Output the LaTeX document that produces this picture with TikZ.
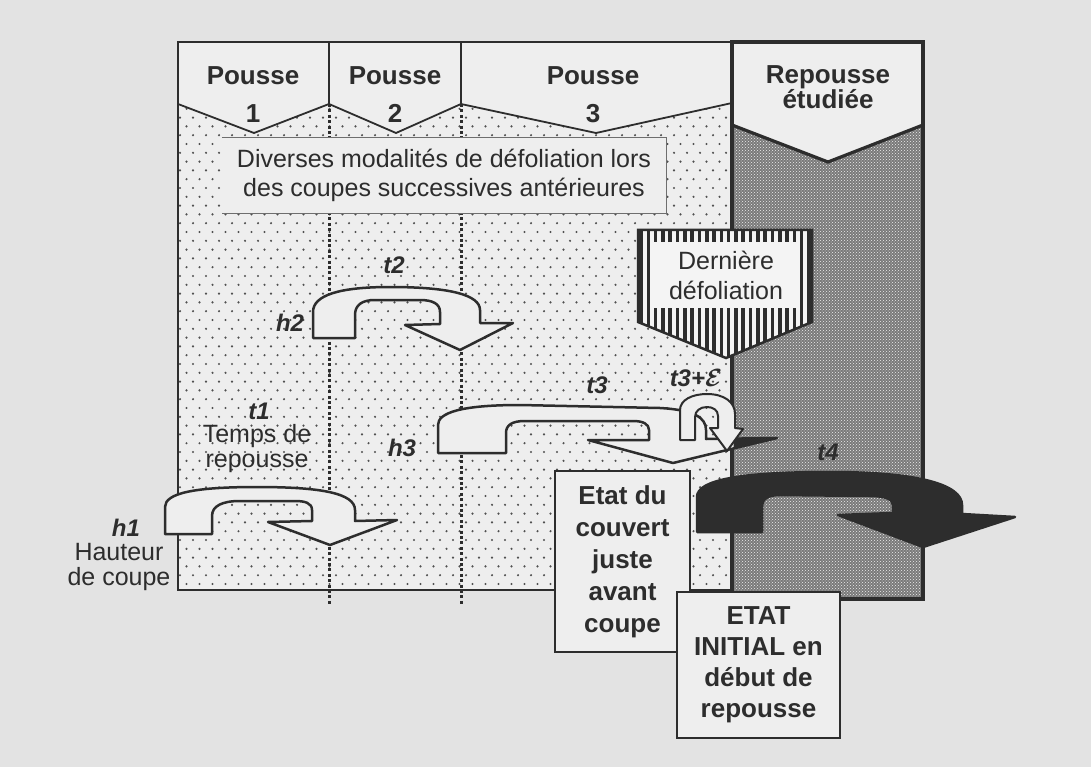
\documentclass[tikz,border=0pt]{standalone}
\usepackage{fontspec}
\setmainfont{Liberation Sans}
\usetikzlibrary{patterns}
\definecolor{bgc}{HTML}{E3E3E3}
\definecolor{lightc}{HTML}{EEEEEE}
\definecolor{whitec}{HTML}{F4F4F4}
\definecolor{darkc}{HTML}{2D2D2D}
\definecolor{colc}{HTML}{7A7A7A}
\definecolor{dotc}{HTML}{505050}
\definecolor{boxline}{HTML}{6E6E6E}
\tikzset{
  every node/.style={text=darkc, inner sep=0pt},
  lbl/.style={font=\fontsize{25}{25}\selectfont, align=center},
  hdr/.style={font=\fontsize{26}{38}\selectfont\bfseries, align=center},
  boxtxt/.style={font=\fontsize{26}{32}\selectfont\bfseries, align=center, draw=darkc, line width=2.5, fill=lightc},
  tlbl/.style={font=\fontsize{24}{24}\selectfont\bfseries\itshape},
  ubend/.style={draw=darkc, line width=2.5, fill=lightc, line join=round},
  thinline/.style={draw=darkc, line width=1.8},
  thickline/.style={draw=darkc, line width=3.2},
  vdots/.style={draw=darkc, line width=3, dash pattern=on 3 off 2.4},
  dotzone/.style={insert path={(178,104) -- (254,133) -- (329,104) -- (396,133) -- (461,104) -- (596,133) -- (732,103) -- (732,590) -- (178,590) -- cycle}},
  colzone/.style={insert path={(732,125) -- (828,162) -- (923,125) -- (923,599) -- (732,599) -- cycle}},
  hatchzone/.style={insert path={(638,230) -- (812,230) -- (812,322) -- (726,358) -- (638,322) -- cycle}},
  hthree/.style={insert path={(438,453) -- (438,425) .. controls (438,413) and (460,405) .. (520,405) -- (660,408) .. controls (695,410) and (706,418) .. (706,430) -- (706,439) -- (777,438) -- (673,463) -- (588,440) -- (649,440) -- (649,430) .. controls (649,424) and (643,421) .. (633,421) -- (525,421) .. controls (512,421) and (506,425) .. (506,433) -- (506,453) -- cycle}}
}
\begin{document}
\begin{tikzpicture}[x=1pt,y=-1pt]
\useasboundingbox (0,0) rectangle (1091,767);
\fill[bgc] (0,0) rectangle (1091,767);

% dotted zone
\fill[lightc, dotzone];
\begin{scope}
  \clip[dotzone];
  \foreach \r in {0,...,56} {
    \pgfmathsetmacro{\yy}{100+\r*8.8}
    \pgfmathsetmacro{\off}{mod(\r,2)*6.5}
    \foreach \c in {0,...,43} {
      \fill[dotc] (180+\off+\c*13,\yy) circle (1.2);
    }
  }
\end{scope}

% header cells
\fill[lightc] (178,42) -- (732,42) -- (732,103) -- (596,133) -- (461,104) -- (396,133) -- (329,104) -- (254,133) -- (178,104) -- cycle;
\draw[thinline] (178,104) -- (254,133) -- (329,104) -- (396,133) -- (461,104) -- (596,133) -- (732,103);
\draw[thinline] (329,42) -- (329,104);
\draw[thinline] (461,42) -- (461,104);

% vertical dotted lines
\draw[vdots] (329,104) -- (329,604);
\draw[vdots] (461,104) -- (461,604);

% main frame
\draw[thinline] (178,42) rectangle (732,590);

% studied regrowth column
\fill[colc, colzone];
\fill[pattern=crosshatch dots, pattern color=lightc, colzone];
\fill[lightc] (732,42) -- (923,42) -- (923,125) -- (828,162) -- (732,125) -- cycle;
\draw[thickline, line join=miter] (732,125) -- (828,162) -- (923,125);
\draw[thickline] (732,42) rectangle (923,599);

% header texts
\node[hdr] (p1) at (253,95) {Pousse\\1};
\node[hdr] (p2) at (395,95) {Pousse\\2};
\node[hdr] (p3) at (593,95) {Pousse\\3};
\node[hdr, font=\fontsize{26}{25}\selectfont\bfseries] (rep) at (828,87) {Repousse\\étudiée};

% Diverses box
\node[lbl, font=\fontsize{25}{29}\selectfont, fill=lightc, minimum width=444, minimum height=75] (div) at (444,175.5) {Diverses modalités de défoliation lors\\des coupes successives antérieures};
\draw[boxline, line width=1.2] (div.north west) -- (div.north east) -- (div.south east) -- (div.south west);

% last defoliation (hatched)
\fill[whitec, hatchzone];
\begin{scope}
  \clip[hatchzone];
  \foreach \i in {0,...,24} {
    \draw[darkc, line width=3.6] (641+\i*7.3,225) -- (641+\i*7.3,362);
  }
\end{scope}
\draw[darkc, line width=2.5, hatchzone];
\node[lbl, font=\fontsize{25}{30}\selectfont, fill=whitec, minimum width=148, minimum height=66] (der) at (726,275) {Dernière\\défoliation};

% U-turn arrows
\draw[ubend] (165,534) -- (165,507) .. controls (165,493) and (195,487) .. (257,487) .. controls (320,487) and (355,493) .. (355,510) -- (355,521) -- (397,520) -- (330,545) -- (268,522) -- (312,521) -- (312,510) .. controls (312,503) and (305,501) .. (295,501) -- (240,501) .. controls (222,501) and (212,506) .. (212,516) -- (212,534) -- cycle;

\draw[ubend] (313,338) -- (313,312) .. controls (313,295) and (340,287) .. (390,287) .. controls (450,287) and (480,295) .. (480,310) -- (480,323) -- (513,323) -- (460,350) -- (405,325) -- (440,324) -- (440,312) .. controls (440,304) and (433,300) .. (420,300) -- (375,300) .. controls (362,300) and (355,305) .. (355,315) -- (355,338) -- cycle;

\draw[ubend, hthree];
\begin{scope}
  \clip (733.5,0) rectangle (1091,767);
  \fill[darkc, hthree];
\end{scope}

\draw[ubend, line width=2] (680,440) -- (680,410) .. controls (680,400) and (692,394) .. (707,394) .. controls (724,394) and (735,402) .. (735,414) -- (735,428) -- (743,429) -- (727,451) -- (710,428) -- (718,428) -- (718,416) .. controls (718,410) and (713,407) .. (707,407) .. controls (700,407) and (695,411) .. (695,417) -- (695,440) -- cycle;

\draw[ubend, fill=darkc] (697,532) -- (697,497) .. controls (697,480) and (740,472) .. (830,472) .. controls (920,472) and (962,485) .. (962,505) -- (962,514) -- (1015,517) -- (923,547) -- (838,515) -- (893,513) -- (893,505) .. controls (893,499) and (885,496) .. (870,496) -- (780,495) .. controls (768,495) and (762,499) .. (762,506) -- (762,532) -- cycle;

% labels
\node[tlbl] (t1) at (259,411) {t1};
\node[lbl] (temps) at (257,449) {Temps de\\repousse};
\node[tlbl] (h1) at (126,528) {h1};
\node[lbl] (haut) at (119,567) {Hauteur\\de coupe};
\node[tlbl] (t2) at (394,265) {t2};
\node[tlbl] (h2) at (290,323) {h2};
\node[tlbl] (t3) at (597,385) {t3};
\node[tlbl] (t3e) at (696,378) {t3+{\boldmath$\mathcal{E}$}};
\node[tlbl] (h3) at (402,448) {h3};
\node[tlbl] (t4) at (828,452) {t4};

% boxes
\node[boxtxt, minimum width=135, minimum height=181] (etat) at (622.5,561.5) {Etat du\\couvert\\juste\\avant\\coupe};
\node[boxtxt, font=\fontsize{26}{31}\selectfont\bfseries, minimum width=163, minimum height=146] (init) at (758.5,665) {ETAT\\INITIAL en\\début de\\repousse};
\end{tikzpicture}
\end{document}
